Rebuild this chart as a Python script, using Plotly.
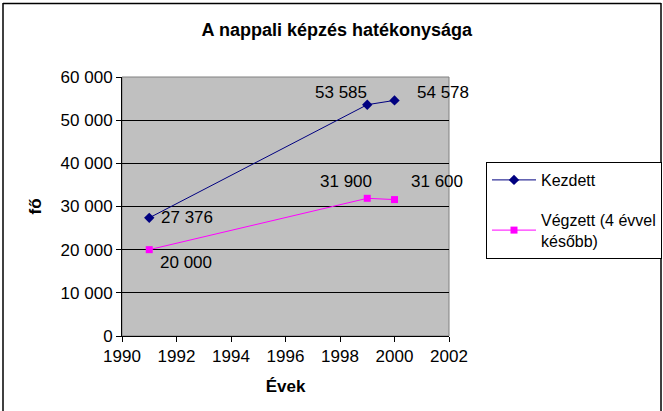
import plotly.graph_objects as go

years = [1991, 1999, 2000]
kezdett = [27376, 53585, 54578]
vegzett = [20000, 31900, 31600]
y_ticks = [0, 10000, 20000, 30000, 40000, 50000, 60000]
y_ticklabels = ["0", "10 000", "20 000", "30 000", "40 000", "50 000", "60 000"]
x_ticks = [1990, 1992, 1994, 1996, 1998, 2000, 2002]

def fmt(v):
    return f"{v:,}".replace(",", " ")

FONT = "Arial"
FS = 17

fig = go.Figure()
fig.add_trace(go.Scatter(x=years, y=kezdett, mode="lines+markers", name="Kezdett",
                         line=dict(color="#000080", width=1),
                         marker=dict(symbol="diamond", size=8, color="#000080"),
                         legendgroup="a"))
fig.add_trace(go.Scatter(x=years, y=vegzett, mode="lines+markers", name="Végzett (4 évvel<br>később)",
                         line=dict(color="#FF00FF", width=1),
                         marker=dict(symbol="square", size=7, color="#FF00FF"),
                         legendgroup="b"))

# data labels: (series, index, xanchor, xshift, yshift)
label_spec = [
    (kezdett, 0, "left", 10, 0),
    (kezdett, 1, "right", 2, 12),
    (kezdett, 2, "left", 20, 8),
    (vegzett, 0, "left", 9, -13),
    (vegzett, 1, "right", 7, 17),
    (vegzett, 2, "left", 14, 18),
]
for series, i, xa, xs, ys in label_spec:
    fig.add_annotation(x=years[i], y=series[i], text=fmt(series[i]), showarrow=False,
                       xanchor=xa, yanchor="middle", xshift=xs, yshift=ys,
                       font=dict(family=FONT, size=FS, color="black"))

W, H = 663, 411
L, R, T, B = 122, 214, 77, 75
pw, ph = W - L - R, H - T - B
def px_x(p):
    return (p - L) / pw
def px_y(p):
    return (H - B - p) / ph

# outer chart frame (left, top, right edges)
frame = dict(color="black", width=1.5)
fig.add_shape(type="line", xref="paper", yref="paper", x0=px_x(3), x1=px_x(3),
              y0=px_y(411), y1=px_y(3), line=frame)
fig.add_shape(type="line", xref="paper", yref="paper", x0=px_x(3), x1=px_x(661),
              y0=px_y(3.5), y1=px_y(3.5), line=frame)
fig.add_shape(type="line", xref="paper", yref="paper", x0=px_x(661), x1=px_x(661),
              y0=px_y(411), y1=px_y(3), line=frame)

fig.update_layout(
    width=W, height=H,
    margin=dict(l=L, r=R, t=T, b=B, autoexpand=False),
    paper_bgcolor="white",
    plot_bgcolor="#C0C0C0",
    title=dict(text="<b>A nappali képzés hatékonysága</b>", x=0.508, xanchor="center",
               y=1 - 30 / H, yanchor="middle", xref="container", yref="container",
               font=dict(family=FONT, size=18, color="black")),
    font=dict(family=FONT, size=FS, color="black"),
    showlegend=True,
    legend=dict(x=px_x(486), y=px_y(162), xanchor="left", yanchor="top",
                bordercolor="black", borderwidth=1, bgcolor="white",
                font=dict(family=FONT, size=16, color="black"),
                tracegroupgap=16, traceorder="grouped", itemwidth=44),
    xaxis=dict(range=[1990, 2002], tickvals=x_ticks, showgrid=False, zeroline=False,
               showline=True, linecolor="black", linewidth=1, mirror=False,
               ticks="outside", ticklen=5, tickcolor="black", automargin=False,
               tickfont=dict(family=FONT, size=FS),
               title=dict(text="<b>Évek</b>", standoff=14, font=dict(family=FONT, size=FS))),
    yaxis=dict(range=[0, 60000], tickvals=y_ticks, ticktext=y_ticklabels,
               showgrid=True, gridcolor="black", gridwidth=1, zeroline=False,
               showline=True, linecolor="black", linewidth=1, automargin=False,
               ticks="outside", ticklen=5, tickcolor="black",
               tickfont=dict(family=FONT, size=FS),
               title=dict(text="<b>fő</b>", standoff=14, font=dict(family=FONT, size=FS))),
)
# plot area border (gray)
fig.add_shape(type="rect", xref="paper", yref="paper", x0=0, x1=1, y0=0, y1=1,
              line=dict(color="#808080", width=1), fillcolor="rgba(0,0,0,0)", layer="below")

fig.write_html("out.html", config={"displayModeBar": False},
               post_script="document.body.style.margin='0';document.body.style.overflow='hidden';")
